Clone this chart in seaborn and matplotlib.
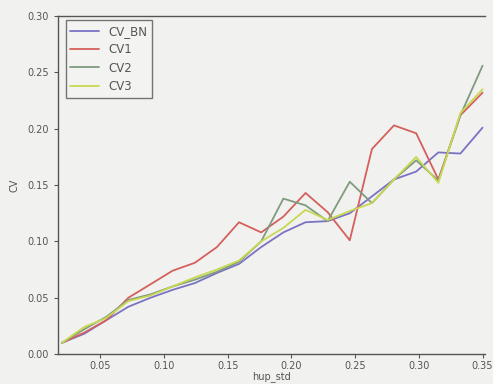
import numpy as np
import pandas as pd
import matplotlib
matplotlib.use("Agg")
import matplotlib.pyplot as plt
import seaborn as sns

# data
hup_std = [0.02, 0.0374, 0.0547, 0.0721, 0.0895, 0.1068, 0.1242, 0.1416, 0.1589, 0.1763,
           0.1937, 0.2111, 0.2284, 0.2458, 0.2632, 0.2805, 0.2979, 0.3153, 0.3326, 0.35]
cv_bn = [0.010, 0.018, 0.030, 0.042, 0.050, 0.057, 0.063, 0.072, 0.080, 0.095,
         0.108, 0.117, 0.118, 0.125, 0.140, 0.155, 0.162, 0.179, 0.178, 0.201]
cv1 = [0.010, 0.019, 0.030, 0.050, 0.062, 0.074, 0.081, 0.095, 0.117, 0.108,
       0.122, 0.143, 0.126, 0.101, 0.182, 0.203, 0.196, 0.155, 0.212, 0.232]
cv2 = [0.010, 0.022, 0.033, 0.048, 0.053, 0.060, 0.066, 0.073, 0.082, 0.100,
       0.138, 0.132, 0.118, 0.153, 0.134, 0.155, 0.172, 0.154, 0.212, 0.256]
cv3 = [0.010, 0.024, 0.032, 0.047, 0.052, 0.060, 0.068, 0.075, 0.083, 0.100,
       0.112, 0.128, 0.119, 0.127, 0.134, 0.155, 0.175, 0.152, 0.214, 0.235]
series_names = ["CV_BN", "CV1", "CV2", "CV3"]
x_ticks = [0.05, 0.10, 0.15, 0.20, 0.25, 0.30, 0.35]
y_ticks = [0.00, 0.05, 0.10, 0.15, 0.20, 0.25, 0.30]

rows = []
for name, vals in zip(series_names, [cv_bn, cv1, cv2, cv3]):
    for xv, yv in zip(hup_std, vals):
        rows.append({"hup_std": xv, "CV": yv, "series": name})
df = pd.DataFrame(rows)

sns.set_style("ticks")
plt.rcParams["font.family"] = ["DejaVu Sans"]

fig = plt.figure(figsize=(4.93, 3.84), dpi=100, facecolor="#f1f1ef")
ax = fig.add_axes([0.118, 0.078, 0.866, 0.880])
ax.set_facecolor("#f1f1ef")

palette = {"CV_BN": "#7a72c4", "CV1": "#d4605c", "CV2": "#7f9a7f", "CV3": "#c8d850"}
sns.lineplot(data=df, x="hup_std", y="CV", hue="series", palette=palette,
             hue_order=series_names, linewidth=1.3, ax=ax)

ax.set_xlim(0.017, 0.352)
ax.set_ylim(0.0, 0.30)
ax.set_xticks(x_ticks)
ax.set_yticks(y_ticks)
ax.set_xticklabels([f"{t:.2f}" for t in x_ticks], fontsize=7, color="#555555")
ax.set_yticklabels([f"{t:.2f}" for t in y_ticks], fontsize=7, color="#555555")
ax.tick_params(length=3, width=0.8, colors="#555555")
ax.tick_params(axis="x", pad=2)
ax.set_xlabel("hup_std", fontsize=7, color="#555555", labelpad=0)
ax.set_ylabel("CV", fontsize=7, color="#555555", labelpad=6)
for s in ["left", "bottom", "top"]:
    ax.spines[s].set_color("#555555")
    ax.spines[s].set_linewidth(1.0)
ax.spines["right"].set_visible(False)

leg = ax.legend(loc="upper left", fontsize=8.5, frameon=True, fancybox=False,
                borderpad=0.4, handlelength=2.4, labelspacing=0.45,
                borderaxespad=0.2, bbox_to_anchor=(0.012, 0.995))
leg.get_frame().set_edgecolor("#555555")
leg.get_frame().set_facecolor("#f4f4f2")
leg.get_frame().set_linewidth(1.0)
for t in leg.get_texts():
    t.set_color("#555555")

fig.savefig("out.png", dpi=100, facecolor=fig.get_facecolor())
